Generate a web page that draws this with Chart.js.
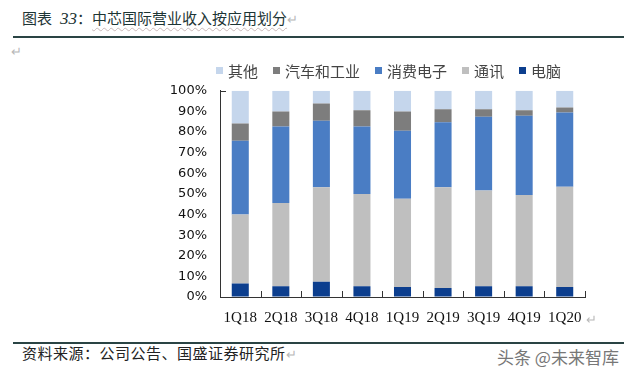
<!DOCTYPE html>
<html>
<head>
<meta charset="utf-8">
<script src="https://cdn.jsdelivr.net/npm/chart.js@4.4.0/dist/chart.umd.min.js"></script>
<style>
  body { margin: 0; width: 624px; height: 375px; background: #fff; position: relative; overflow: hidden; font-family: "Noto Sans CJK SC", sans-serif; }
  .title { position: absolute; left: 22px; top: 7px; font-size: 15px; color: #1d3535; white-space: nowrap; }
  .title .num { font-family: "Liberation Serif", serif; font-style: italic; font-size: 17px; margin-left: 8px; }
  .title .main { text-decoration: underline wavy #c9b9b9; text-decoration-thickness: 1px; text-underline-offset: 3px; }
  .mark { color: #b8b8b8; font-size: 13px; }
  .rule { position: absolute; left: 13px; right: 0; height: 2px; background: #2a4444; }
  .ret { position: absolute; left: 11px; top: 41px; color: #b8b8b8; font-size: 13px; }
  #legend { position: absolute; left: 216px; top: 60px; display: flex; font-size: 15px; color: #444; white-space: nowrap; }
  #legend span.item { display: flex; align-items: center; margin-right: 15px; }
  #legend i { display: inline-block; width: 7px; height: 7px; margin-right: 5px; }
  #wrap { position: absolute; left: 150px; top: 70px; width: 450px; height: 260px; }
  .xret { position: absolute; left: 586px; top: 309px; color: #b8b8b8; font-size: 13px; }
  .source { position: absolute; left: 22px; top: 342px; font-size: 15px; letter-spacing: 0.5px; color: #222; white-space: nowrap; }
  .wm { position: absolute; left: 497px; top: 344px; font-size: 17px; color: #777; white-space: nowrap; }
</style>
</head>
<body>
<div class="title">图表<span class="num">33</span>：<span class="main">中芯国际营业收入按应用划分</span><span class="mark">↵</span></div>
<div class="rule" style="top:36px"></div>
<div class="ret">↵</div>
<div id="wrap"><canvas id="grafico"></canvas></div>
<div id="legend"></div>
<div class="xret">↵</div>
<div class="rule" style="top:342px; height:1.5px"></div>
<div class="source">资料来源：公司公告、国盛证券研究所<span class="mark">↵</span></div>
<div class="wm">头条 @未来智库</div>
<script>
const trimestres = ['1Q18', '2Q18', '3Q18', '4Q18', '1Q19', '2Q19', '3Q19', '4Q19', '1Q20'];
// stacked from the bottom up
const diannao  = [6.5, 5.2, 7.4, 5.2, 4.8, 4.4, 5.2, 5.2, 4.8];
const tongxun  = [33.5, 40.4, 45.8, 44.8, 42.8, 48.8, 46.4, 44.3, 48.7];
const xiaofei  = [35.8, 37.1, 32.3, 32.7, 33.0, 31.5, 35.8, 38.4, 36.0];
const qiche    = [8.4, 7.3, 8.4, 7.9, 9.4, 6.3, 3.6, 2.7, 2.4];
const qita     = [15.8, 10.0, 6.1, 9.4, 10.0, 9.0, 9.0, 9.4, 8.1];
const yTicks = [0, 10, 20, 30, 40, 50, 60, 70, 80, 90, 100];

const series = [
    { label: '电脑', data: diannao, color: '#0c3e8e' },
    { label: '通讯', data: tongxun, color: '#bfbfbf' },
    { label: '消费电子', data: xiaofei, color: '#4a7dc4' },
    { label: '汽车和工业', data: qiche, color: '#7d7d7d' },
    { label: '其他', data: qita, color: '#c5d6ec' }
];

// small inward tick marks on the axes, taken from the scales
const marcas = {
    id: 'marcas',
    afterDraw(chart) {
        const x = chart.scales.x, y = chart.scales.y, ctx = chart.ctx;
        const passo = x.getPixelForValue(1) - x.getPixelForValue(0);
        ctx.save();
        ctx.strokeStyle = '#333';
        ctx.lineWidth = 1;
        ctx.beginPath();
        for (let i = 0; i < trimestres.length; i++) {
            const px = Math.round(x.getPixelForValue(i) + passo / 2) + 0.5;
            ctx.moveTo(px, y.bottom);
            ctx.lineTo(px, y.bottom - 6);
        }
        const top = Math.round(y.getPixelForValue(100)) + 0.5;
        ctx.moveTo(x.left, top);
        ctx.lineTo(x.left + 6, top);
        ctx.stroke();
        ctx.restore();
    }
};

const ctx = document.getElementById('grafico').getContext('2d');
const grafico = new Chart(ctx, {
    type: 'bar',
    data: {
        labels: trimestres,
        datasets: series.map(s => ({
            label: s.label,
            data: s.data,
            backgroundColor: s.color,
            borderWidth: 0,
            categoryPercentage: 1,
            barPercentage: 0.42
        }))
    },
    options: {
        responsive: true,
        maintainAspectRatio: false,
        animation: false,
        layout: { padding: { top: 0, right: 15, left: 0, bottom: 0 } },
        plugins: { legend: { display: false }, tooltip: { enabled: false } },
        scales: {
            x: {
                stacked: true,
                grid: { drawOnChartArea: false, drawTicks: false },
                border: { color: '#333', width: 1 },
                ticks: { color: '#111', padding: 12, font: { family: 'Liberation Serif', size: 15 } },
                afterFit: s => { s.height = 33; }
            },
            y: {
                stacked: true,
                min: 0,
                max: 100,
                afterBuildTicks: s => { s.ticks = yTicks.map(v => ({ value: v })); },
                grid: { drawOnChartArea: false, drawTicks: false },
                border: { color: '#333', width: 1 },
                ticks: { color: '#111', padding: 13, font: { family: 'DejaVu Sans', size: 13 }, callback: v => v + '%' },
                afterFit: s => { s.width = 70; }
            }
        }
    },
    plugins: [marcas]
});

// legend in the same order as the reference (top of stack first)
const legenda = document.getElementById('legend');
grafico.data.datasets.slice().reverse().forEach(d => {
    const item = document.createElement('span');
    item.className = 'item';
    item.innerHTML = '<i style="background:' + d.backgroundColor + '"></i>' + d.label;
    legenda.appendChild(item);
});
</script>
</body>
</html>
